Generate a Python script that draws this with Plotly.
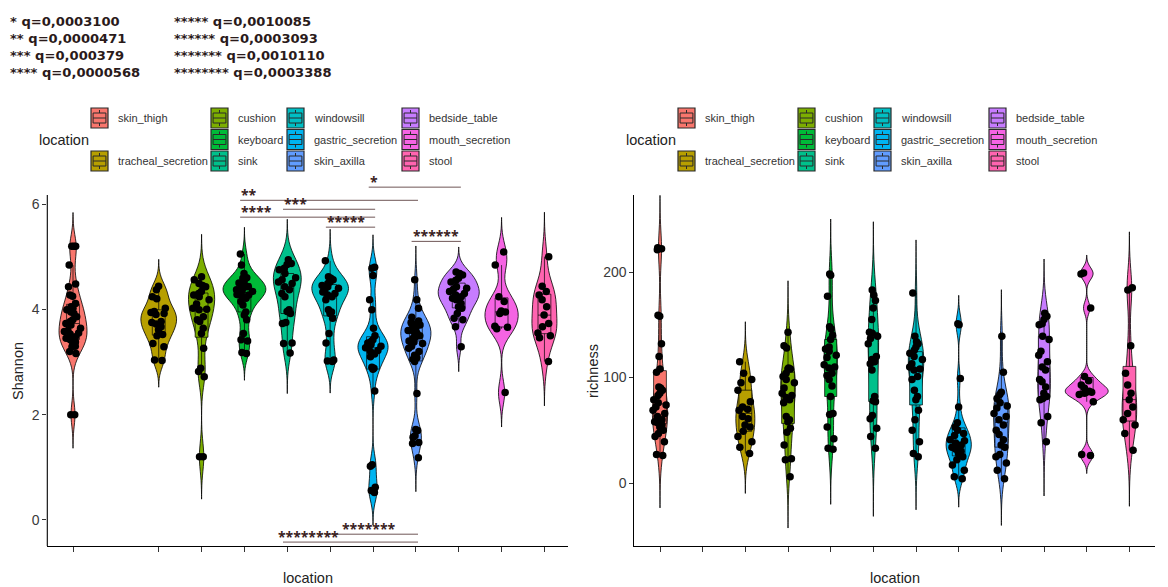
import numpy as np
import plotly.graph_objects as go

# ---------------------------------------------------------------- data
locations = ["skin_thigh", "", "tracheal_secretion", "cushion", "keyboard", "sink",
             "windowsill", "gastric_secretion", "skin_axilla", "bedside_table",
             "mouth_secretion", "stool"]
colors = ["#F8766D", "#DE8C00", "#B79F00", "#7CAE00", "#00BA38", "#00C08B",
          "#00BFC4", "#00B4F0", "#619CFF", "#C77CFF", "#F564E3", "#FF64B0"]

# Shannon diversity per sample
shannon_skin_thigh = [5.2, 5.2, 5.2, 4.84, 4.48, 4.43, 4.27, 4.25, 4.11, 4.05, 4.02, 3.99,
                      3.95, 3.92, 3.86, 3.8, 3.77, 3.73, 3.7, 3.64, 3.6, 3.58, 3.55, 3.53,
                      3.48, 3.45, 3.42, 3.38, 3.35, 3.3, 3.29, 3.2, 3.16, 2.0, 2.0]
shannon_tracheal_secretion = [4.44, 4.37, 4.24, 4.2, 4.02, 3.96, 3.94, 3.92, 3.9, 3.77,
                              3.75, 3.72, 3.67, 3.61, 3.52, 3.5, 3.35, 3.29, 3.04, 3.03]
shannon_cushion = [4.62, 4.56, 4.49, 4.45, 4.43, 4.34, 4.3, 4.27, 4.24, 4.18, 4.1, 4.02,
                   4.0, 3.99, 3.86, 3.8, 3.77, 3.64, 3.54, 3.26, 2.88, 2.82, 2.72, 1.2, 1.2]
shannon_keyboard = [5.05, 4.84, 4.68, 4.6, 4.59, 4.56, 4.5, 4.49, 4.45, 4.43, 4.42, 4.4,
                    4.37, 4.35, 4.34, 4.3, 4.28, 4.27, 4.24, 4.21, 4.15, 4.08, 3.95, 3.89,
                    3.8, 3.54, 3.42, 3.4, 3.18, 3.16]
shannon_sink = [4.94, 4.87, 4.85, 4.78, 4.75, 4.68, 4.6, 4.56, 4.52, 4.49, 4.43, 4.37,
                4.3, 4.24, 3.99, 3.96, 3.92, 3.75, 3.73, 3.36, 3.35, 3.17]
shannon_windowsill = [4.92, 4.62, 4.59, 4.56, 4.52, 4.49, 4.45, 4.43, 4.4, 4.37, 4.33, 4.3,
                      4.27, 4.24, 4.18, 3.99, 3.95, 3.92, 3.83, 3.54, 3.36, 3.04, 3.02, 3.01]
shannon_gastric_secretion = [4.8, 4.78, 4.64, 4.18, 3.99, 3.64, 3.5, 3.42, 3.39, 3.36,
                             3.33, 3.3, 3.3, 3.27, 3.22, 3.2, 3.15, 3.1, 2.9, 2.88, 2.86,
                             2.45, 1.05, 1.02, 0.62, 0.56, 0.52]
shannon_skin_axilla = [4.56, 4.18, 4.02, 3.85, 3.78, 3.75, 3.73, 3.72, 3.7, 3.66, 3.64,
                       3.6, 3.58, 3.55, 3.5, 3.48, 3.45, 3.4, 3.38, 3.35, 3.3, 3.26, 3.2,
                       3.13, 3.08, 3.05, 3.01, 2.4, 1.72, 1.7, 1.6, 1.57, 1.47, 1.45, 1.18]
shannon_bedside_table = [4.71, 4.68, 4.65, 4.59, 4.55, 4.52, 4.43, 4.4, 4.38, 4.34, 4.3,
                         4.27, 4.24, 4.21, 4.18, 4.11, 4.05, 4.02, 3.92, 3.83, 3.8, 3.67,
                         3.29]
shannon_mouth_secretion = [5.09, 4.84, 4.24, 4.15, 3.97, 3.95, 3.92, 3.68, 3.66, 3.63, 2.42]
shannon_stool = [5.0, 4.44, 4.34, 4.27, 4.18, 4.05, 3.89, 3.73, 3.67, 3.55, 3.5, 3.46, 3.01]

# Observed richness per sample
richness_skin_thigh = [223, 222, 221, 159, 158, 132, 120, 108, 105, 91, 90, 88, 85, 83, 79,
                       76, 74, 72, 69, 66, 63, 60, 58, 57, 55, 53, 50, 47, 44, 39, 27, 26]
richness_tracheal_secretion = [115, 104, 98, 95, 88, 77, 72, 70, 69, 63, 61, 55, 53, 49,
                               44, 39, 34, 28]
richness_cushion = [143, 130, 128, 109, 108, 108, 104, 101, 98, 95, 90, 85, 83, 81, 79, 76,
                    63, 60, 58, 52, 48, 36, 23, 22, 6]
richness_keyboard = [198, 197, 177, 148, 146, 140, 136, 129, 127, 125, 121, 119, 112, 110,
                     109, 104, 102, 98, 92, 82, 66, 65, 53, 42, 33, 32]
richness_sink = [183, 178, 173, 166, 155, 143, 142, 139, 137, 132, 120, 117, 115, 113, 107,
                 82, 78, 77, 64, 61, 52, 44, 33]
richness_windowsill = [180, 139, 134, 132, 129, 126, 123, 120, 117, 113, 110, 108, 107, 101,
                       98, 88, 82, 79, 69, 60, 50, 39, 28, 25]
richness_gastric_secretion = [151, 150, 99, 72, 57, 53, 50, 47, 45, 41, 40, 38, 36, 34, 32,
                              30, 28, 25, 22, 17, 12, 6, 4]
richness_skin_axilla = [139, 105, 86, 84, 80, 76, 73, 71, 66, 63, 60, 55, 50, 46, 41, 36,
                        34, 27, 25, 19, 12, 4]
richness_bedside_table = [161, 158, 155, 151, 150, 139, 136, 125, 121, 115, 110, 107, 98,
                          96, 91, 85, 82, 80, 79, 63, 57, 39]
richness_mouth_secretion = [199, 198, 166, 101, 97, 93, 90, 87, 86, 86, 85, 84, 77, 27, 26]
richness_stool = [185, 183, 130, 104, 93, 85, 79, 72, 66, 60, 55, 47, 31]

# Pairwise comparisons on the Shannon panel (category indices)
sig_from = [7, 4, 5, 4, 6, 8, 6, 5]
sig_to = [9, 8, 7, 7, 7, 9, 8, 8]
sig_y = [6.32, 6.07, 5.90, 5.75, 5.56, 5.29, -0.27, -0.42]
sig_label = ["*", "**", "***", "****", "*****", "******", "*******", "********"]
sig_text_dx = [0.0, 0.0, 0.0, 0.0, 0.0, 0.0, 0.34, -0.15]

q_stars = ["*", "**", "***", "****", "*****", "******", "*******", "********"]
q_values = ["0,0003100", "0,0000471", "0,000379", "0,0000568",
            "0,0010085", "0,0003093", "0,0010110", "0,0003388"]

shannon_groups = [shannon_skin_thigh, [], shannon_tracheal_secretion, shannon_cushion,
                  shannon_keyboard, shannon_sink, shannon_windowsill,
                  shannon_gastric_secretion, shannon_skin_axilla, shannon_bedside_table,
                  shannon_mouth_secretion, shannon_stool]
richness_groups = [richness_skin_thigh, [], richness_tracheal_secretion, richness_cushion,
                   richness_keyboard, richness_sink, richness_windowsill,
                   richness_gastric_secretion, richness_skin_axilla, richness_bedside_table,
                   richness_mouth_secretion, richness_stool]

# ---------------------------------------------------------------- helpers
W, H = 1168, 587
FONT = "Arial, Liberation Sans, sans-serif"
BOLD = "DejaVu Sans, Verdana, sans-serif"
STARS = "Noto Sans, DejaVu Sans, sans-serif"
VIOLIN_WIDTH = 1.0      # width of the widest violin, in category units
BOX_WIDTH = 0.3         # inner boxplot width, in category units
JITTER_HALF = 0.22      # horizontal spread of the points, in category units


def px(xp):
    return xp / W


def py(yp):
    return 1 - yp / H


def nrd0(v):
    v = np.asarray(v, dtype=float)
    sd = v.std(ddof=1)
    q75, q25 = np.percentile(v, [75, 25])
    lo = min(sd, (q75 - q25) / 1.34)
    if lo <= 0:
        lo = sd if sd > 0 else 1.0
    return 0.9 * lo * len(v) ** -0.2


def kde_peak(v, bw, lo, hi):
    v = np.asarray(v, dtype=float)
    grid = np.linspace(lo, hi, 512)
    dens = np.exp(-0.5 * ((grid[:, None] - v[None, :]) / bw) ** 2).sum(axis=1)
    dens /= len(v) * bw * np.sqrt(2 * np.pi)
    return dens.max()


fig = go.Figure()

for groups, xa, ya in [(shannon_groups, "x", "y"), (richness_groups, "x2", "y2")]:
    # equal-area scaling: each violin's width follows its own density peak
    stats = {}
    for i, vals in enumerate(groups):
        if vals:
            bw = nrd0(vals)
            span = [min(vals) - 3 * bw, max(vals) + 3 * bw]
            stats[i] = (bw, span, kde_peak(vals, bw, *span))
    peak_max = max(s[2] for s in stats.values())
    for i, vals in enumerate(groups):
        if not vals:
            continue
        bw, span, peak = stats[i]
        w = VIOLIN_WIDTH * peak / peak_max
        fig.add_trace(go.Violin(
            x=[i] * len(vals), y=vals, xaxis=xa, yaxis=ya, name=locations[i],
            width=w, scalemode="width",
            bandwidth=bw, spanmode="manual", span=span,
            fillcolor=colors[i], opacity=1,
            line=dict(color="black", width=0.8),
            box=dict(visible=True, width=min(0.9, BOX_WIDTH / w), fillcolor=colors[i],
                     line=dict(color="black", width=0.7)),
            meanline=dict(visible=False),
            points="all", jitter=min(1.0, JITTER_HALF / (w / 2)), pointpos=0,
            marker=dict(color="black", size=7.5, line=dict(width=0)),
            showlegend=False, hoverinfo="skip",
        ))

shapes = []
annotations = []

# custom left y-axis line (bars sit above it)
shapes.append(dict(type="line", xref="x domain", yref="y", x0=0, x1=0, y0=-0.5, y1=6.17,
                   line=dict(color="black", width=1.1)))

# significance bars
for f, t, yv, lab, dx in zip(sig_from, sig_to, sig_y, sig_label, sig_text_dx):
    shapes.append(dict(type="line", xref="x", yref="y", x0=f - 0.1, x1=t + 0.05,
                       y0=yv, y1=yv, line=dict(color="#6f5656", width=1)))
    annotations.append(dict(x=f - 0.12 + dx, y=yv, xref="x", yref="y", text=lab,
                            showarrow=False, xanchor="left", yanchor="bottom", yshift=-6,
                            font=dict(family=STARS, size=14, color="#3a2222",
                                      weight="bold")))

# q-value key: two columns of four lines
for col in range(2):
    lines = [f"{s} q={q}" for s, q in zip(q_stars[4 * col:4 * col + 4],
                                          q_values[4 * col:4 * col + 4])]
    annotations.append(dict(x=px([8, 172][col]), y=py(46.5), xref="paper", yref="paper",
                            text="<br>".join(lines), showarrow=False, align="left",
                            xanchor="left", yanchor="middle",
                            font=dict(family=BOLD, size=13.1, color="#2a1a1a",
                                      weight="bold")))

# legends (one per panel)
key_cols = [91, 211, 287, 402]
row_centers = [118, 139.5, 161]
for off in [0, 587]:
    annotations.append(dict(x=px(37 + off), y=py(140), xref="paper", yref="paper",
                            text="location", showarrow=False, xanchor="left",
                            yanchor="middle", font=dict(family=FONT, size=14.5, color="#222")))
    for i, loc in enumerate(locations):
        if not loc:
            continue
        col, row = divmod(i, 3)
        x0 = key_cols[col] + off
        yc = row_centers[row]
        kw, kh = 17, 20
        shapes.append(dict(type="rect", xref="paper", yref="paper",
                           x0=px(x0), x1=px(x0 + kw), y0=py(yc - kh / 2), y1=py(yc + kh / 2),
                           fillcolor=colors[i], line=dict(color="#2a2a2a", width=1.2)))
        shapes.append(dict(type="rect", xref="paper", yref="paper",
                           x0=px(x0 + 2.1), x1=px(x0 + kw - 2.1), y0=py(yc - 5), y1=py(yc + 5),
                           fillcolor=colors[i], line=dict(color="#2a2a2a", width=1)))
        shapes.append(dict(type="line", xref="paper", yref="paper",
                           x0=px(x0 + 2.1), x1=px(x0 + kw - 2.1), y0=py(yc), y1=py(yc),
                           line=dict(color="#2a2a2a", width=1)))
        for a, b in [(yc - 8, yc - 5), (yc + 5, yc + 8)]:
            shapes.append(dict(type="line", xref="paper", yref="paper",
                               x0=px(x0 + kw / 2), x1=px(x0 + kw / 2), y0=py(a), y1=py(b),
                               line=dict(color="#2a2a2a", width=1)))
        annotations.append(dict(x=px(x0 + 25), y=py(yc), xref="paper", yref="paper",
                                text=loc, showarrow=False, xanchor="left", yanchor="middle",
                                font=dict(family=FONT, size=11, color="#333")))

# axis titles
for xc, txt in [(307.6, "location"), (894.7, "location")]:
    annotations.append(dict(x=px(xc), y=py(578), xref="paper", yref="paper", text=txt,
                            showarrow=False, xanchor="center", yanchor="middle",
                            font=dict(family=FONT, size=14.5, color="#222")))
for xc, txt in [(18, "Shannon"), (593, "richness")]:
    annotations.append(dict(x=px(xc), y=py(371), xref="paper", yref="paper", text=txt,
                            showarrow=False, textangle=-90, xanchor="center",
                            yanchor="middle",
                            font=dict(family=FONT, size=14.5, color="#222")))

tick_font = dict(family=FONT, size=14, color="#3a3a3a")
common_x = dict(showgrid=False, zeroline=False, showline=True, linecolor="black",
                linewidth=1.1, ticks="outside", ticklen=5, tickcolor="#333",
                showticklabels=False)

fig.update_layout(
    width=W, height=H, margin=dict(l=0, r=0, t=0, b=0),
    paper_bgcolor="white", plot_bgcolor="white",
    violinmode="overlay", showlegend=False,
    xaxis=dict(domain=[px(47.3), px(568)], range=[-0.6, 11.55],
               tickvals=[0, 2, 3, 4, 5, 6, 7, 8, 9, 10, 11], anchor="y", **common_x),
    yaxis=dict(domain=[py(546.3), py(180.3)], range=[-0.5, 6.45], anchor="x",
               showgrid=False, zeroline=False, showline=False, ticks="outside",
               ticklen=4, tickcolor="#333", tickvals=[0, 2, 4, 6], tickfont=tick_font),
    xaxis2=dict(domain=[px(634.4), px(1155)], range=[-0.6, 11.6],
                tickvals=list(range(12)), anchor="y2", **common_x),
    yaxis2=dict(domain=[py(546.3), py(195)], range=[-60, 273], anchor="x2",
                showgrid=False, zeroline=False, showline=True, linecolor="black",
                linewidth=1.1, ticks="outside", ticklen=4, tickcolor="#333",
                tickvals=[0, 100, 200], tickfont=tick_font),
    shapes=shapes, annotations=annotations,
)

fig.write_html("out.html")
